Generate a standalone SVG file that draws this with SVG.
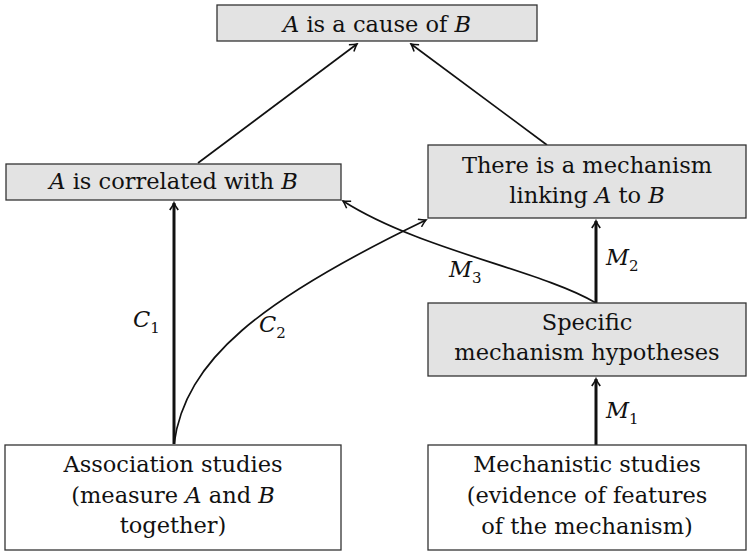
<svg xmlns="http://www.w3.org/2000/svg" width="754" height="552" viewBox="0 0 754 552">
<style>
.box{fill:#e3e3e3;stroke:#333;stroke-width:1.3}
.wbox{fill:#fff;stroke:#333;stroke-width:1.3}
text{font-family:"DejaVu Serif","Liberation Serif",serif;font-size:22.5px;fill:#111;text-anchor:middle}
.i{font-style:italic}
.lbl{text-anchor:start}
.sub{font-size:15px}
.thin{fill:none;stroke:#111;stroke-width:1.7;marker-end:url(#ah)}
.thick{fill:none;stroke:#111;stroke-width:3;marker-end:url(#ahb)}
</style>
<defs>
<marker id="ah" viewBox="-8 -5 10 10" refX="0" refY="0" markerWidth="10" markerHeight="10" markerUnits="userSpaceOnUse" orient="auto">
<path d="M-7,-4.2 Q-2.5,-1 0,0 Q-2.5,1 -7,4.2" fill="none" stroke="#111" stroke-width="1.5"/>
</marker>
<marker id="ahb" viewBox="-8 -5 10 10" refX="0" refY="0" markerWidth="10" markerHeight="10" markerUnits="userSpaceOnUse" orient="auto">
<path d="M-7,-4.2 Q-2.5,-1 0,0 Q-2.5,1 -7,4.2" fill="none" stroke="#111" stroke-width="1.7"/>
</marker>
</defs>
<g id="connectors">
<path class="thin" d="M198,163 L357,44"/>
<path class="thin" d="M547,145 L411,44"/>
<path class="thick" d="M174,444 L174,203"/>
<path class="thin" d="M174,444 C185,360 260,300 426,220"/>
<path class="thin" d="M596,303 C540,270 420,250 343,201"/>
<path class="thick" d="M596,303 L596,221"/>
<path class="thick" d="M596,445 L596,379"/>
<text class="lbl" x="133" y="327"><tspan class="i">C</tspan><tspan class="sub" dy="6">1</tspan></text>
<text class="lbl" x="259" y="332"><tspan class="i">C</tspan><tspan class="sub" dy="6">2</tspan></text>
<text class="lbl" x="449" y="277"><tspan class="i">M</tspan><tspan class="sub" dy="6">3</tspan></text>
<text class="lbl" x="606" y="265"><tspan class="i">M</tspan><tspan class="sub" dy="6">2</tspan></text>
<text class="lbl" x="606" y="418"><tspan class="i">M</tspan><tspan class="sub" dy="6">1</tspan></text>
</g>
<g id="cause">
<rect class="box" x="217" y="5" width="320" height="36"/>
<text x="377" y="32"><tspan class="i">A</tspan> is a cause of <tspan class="i">B</tspan></text>
</g>
<g id="correlated">
<rect class="box" x="6" y="164" width="335" height="36"/>
<text x="173.5" y="189"><tspan class="i">A</tspan> is correlated with <tspan class="i">B</tspan></text>
</g>
<g id="mechanism">
<rect class="box" x="428" y="145" width="318" height="73"/>
<text x="587" y="173">There is a mechanism</text>
<text x="587" y="203">linking <tspan class="i">A</tspan> to <tspan class="i">B</tspan></text>
</g>
<g id="hypotheses">
<rect class="box" x="428" y="303" width="318" height="73"/>
<text x="587" y="330">Specific</text>
<text x="587" y="360">mechanism hypotheses</text>
</g>
<g id="association">
<rect class="wbox" x="5" y="445" width="336" height="105"/>
<text x="173" y="472">Association studies</text>
<text x="173" y="503">(measure <tspan class="i">A</tspan> and <tspan class="i">B</tspan></text>
<text x="173" y="533">together)</text>
</g>
<g id="mechanistic">
<rect class="wbox" x="428" y="445" width="318" height="105"/>
<text x="587" y="472">Mechanistic studies</text>
<text x="587" y="503">(evidence of features</text>
<text x="587" y="534">of the mechanism)</text>
</g>
</svg>
